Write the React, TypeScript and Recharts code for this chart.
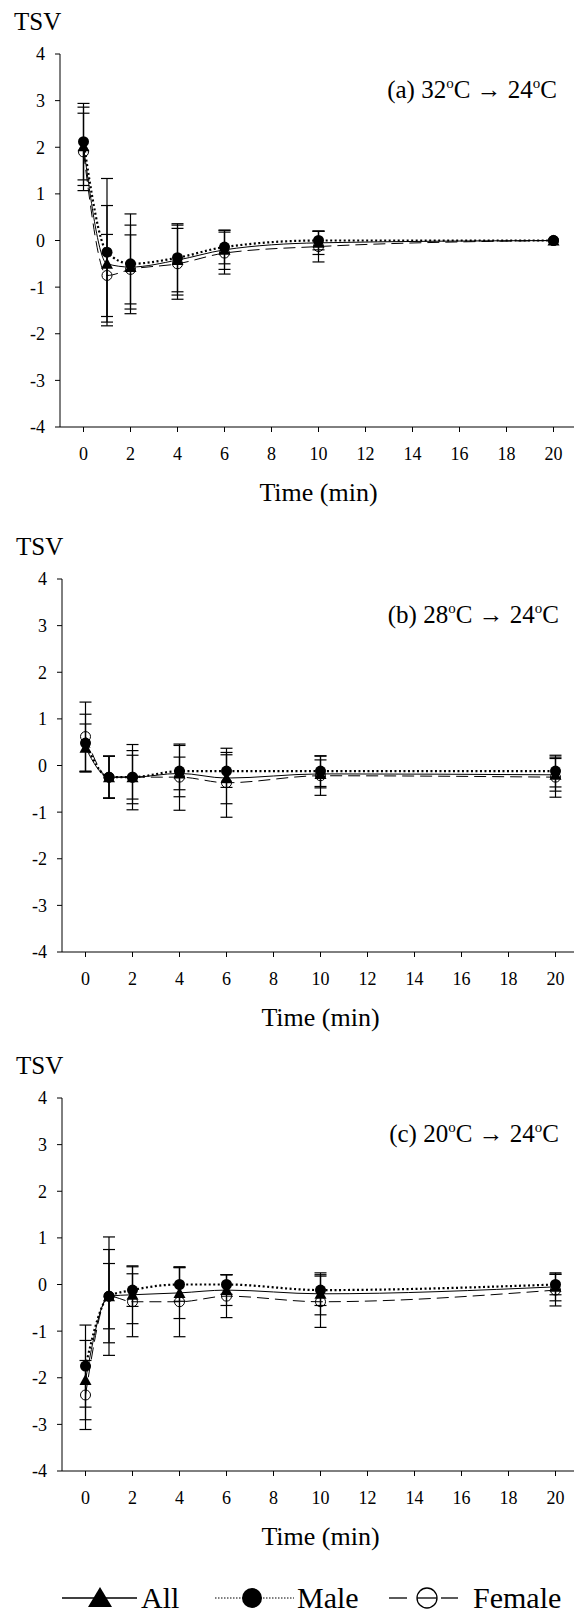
import { ComposedChart, Line, XAxis, YAxis, ErrorBar, Customized } from "recharts";

// sampling times (min)
const times = [0, 1, 2, 4, 6, 10, 20];
const xTicks = [0, 2, 4, 6, 8, 10, 12, 14, 16, 18, 20];
const yTicks = [-4, -3, -2, -1, 0, 1, 2, 3, 4];
const seriesNames = ["All", "Male", "Female"];

// (a) 32 -> 24
const allA = [2.02, -0.5, -0.57, -0.42, -0.2, -0.05, 0];
const allAErr = [0.84, 1.25, 0.9, 0.75, 0.42, 0.25, 0];
const maleA = [2.12, -0.25, -0.5, -0.37, -0.14, 0, 0];
const maleAErr = [0.82, 1.58, 1.07, 0.73, 0.36, 0.2, 0];
const femaleA = [1.9, -0.75, -0.62, -0.5, -0.27, -0.13, 0];
const femaleAErr = [0.83, 0.88, 0.74, 0.76, 0.45, 0.33, 0];

// (b) 28 -> 24
const allB = [0.38, -0.25, -0.25, -0.17, -0.27, -0.18, -0.2];
const allBErr = [0.51, 0.45, 0.47, 0.35, 0.55, 0.3, 0.35];
const maleB = [0.48, -0.25, -0.25, -0.12, -0.12, -0.12, -0.12];
const maleBErr = [0.62, 0.45, 0.7, 0.55, 0.35, 0.33, 0.34];
const femaleB = [0.62, -0.25, -0.25, -0.25, -0.37, -0.22, -0.25];
const femaleBErr = [0.74, 0.45, 0.57, 0.71, 0.74, 0.42, 0.43];

// (c) 20 -> 24
const allC = [-2.05, -0.25, -0.22, -0.18, -0.12, -0.2, -0.05];
const allCErr = [0.85, 0.7, 0.62, 0.55, 0.33, 0.45, 0.3];
const maleC = [-1.75, -0.25, -0.12, 0, 0, -0.12, 0];
const maleCErr = [0.88, 1.0, 0.35, 0.36, 0.21, 0.33, 0.22];
const femaleC = [-2.37, -0.25, -0.37, -0.37, -0.25, -0.37, -0.12];
const femaleCErr = [0.74, 1.27, 0.75, 0.75, 0.46, 0.55, 0.34];

const panelLabels = ["(a)", "(b)", "(c)"];
const fromTemps = ["32", "28", "20"];
const toTemp = "24";

const font = '"Liberation Serif", "Times New Roman", serif';

const makeRows = (all: number[], allErr: number[], male: number[], maleErr: number[], female: number[], femaleErr: number[]) =>
    times.map((t, i) => ({
        t,
        all: all[i],
        allErr: allErr[i],
        male: male[i],
        maleErr: maleErr[i],
        female: female[i],
        femaleErr: femaleErr[i],
    }));

const panels = [
    makeRows(allA, allAErr, maleA, maleAErr, femaleA, femaleAErr),
    makeRows(allB, allBErr, maleB, maleBErr, femaleB, femaleBErr),
    makeRows(allC, allCErr, maleC, maleCErr, femaleC, femaleCErr),
];

const triangleDot = (p: any) => {
    const { cx, cy, index } = p;
    if (cx == null || cy == null) return <g key={`t${index}`} />;
    return <polygon key={`t${index}`} points={`${cx},${cy - 6} ${cx + 6},${cy + 5} ${cx - 6},${cy + 5}`} fill="#000" />;
};
const filledDot = (p: any) => {
    const { cx, cy, index } = p;
    if (cx == null || cy == null) return <g key={`m${index}`} />;
    return <circle key={`m${index}`} cx={cx} cy={cy} r={5.5} fill="#000" />;
};
const openDot = (p: any) => {
    const { cx, cy, index } = p;
    if (cx == null || cy == null) return <g key={`f${index}`} />;
    return <circle key={`f${index}`} cx={cx} cy={cy} r={5} fill="none" stroke="#000" strokeWidth={1} />;
};

function PanelText({ idx }: { idx: number }) {
    return (
        <g style={{ fontFamily: font }}>
            <text x={14} y={30} fontSize={25} fill="#000">TSV</text>
            <text x={557} y={98} fontSize={25} fill="#000" textAnchor="end">
                {panelLabels[idx]} {fromTemps[idx]}
                <tspan dy={-10} fontSize={15}>o</tspan>
                <tspan dy={10}>C → {toTemp}</tspan>
                <tspan dy={-10} fontSize={15}>o</tspan>
                <tspan dy={10}>C</tspan>
            </text>
        </g>
    );
}

function Panel({ idx, top, left }: { idx: number; top: number; left: number }) {
    return (
        <div style={{ position: "absolute", top, left }}>
            <ComposedChart width={577} height={507} data={panels[idx]} margin={{ top: 54, right: 0, bottom: 0, left: 0 }}>
                <XAxis
                    dataKey="t"
                    type="number"
                    domain={[-1, 21]}
                    ticks={xTicks}
                    interval={0}
                    height={80}
                    tickSize={5}
                    tickMargin={15}
                    stroke="#000"
                    tick={{ fill: "#000", fontSize: 18 }}
                    label={{ value: "Time (min)", position: "insideBottom", offset: 6, fill: "#000", fontSize: 26 }}
                />
                <YAxis
                    type="number"
                    domain={[-4, 4]}
                    ticks={yTicks}
                    interval={0}
                    width={60}
                    tickSize={5}
                    tickMargin={10}
                    stroke="#000"
                    tick={{ fill: "#000", fontSize: 18 }}
                />
                <Customized component={<PanelText idx={idx} />} />
                <Line
                    type="monotone"
                    dataKey="female"
                    name={seriesNames[2]}
                    stroke="#000"
                    strokeWidth={1}
                    strokeDasharray="12 6"
                    dot={openDot}
                    activeDot={false}
                    isAnimationActive={false}
                >
                    <ErrorBar dataKey="femaleErr" width={6} stroke="#000" strokeWidth={1.2} direction="y" />
                </Line>
                <Line
                    type="monotone"
                    dataKey="all"
                    name={seriesNames[0]}
                    stroke="#000"
                    strokeWidth={1}
                    dot={triangleDot}
                    activeDot={false}
                    isAnimationActive={false}
                >
                    <ErrorBar dataKey="allErr" width={6} stroke="#000" strokeWidth={1.2} direction="y" />
                </Line>
                <Line
                    type="monotone"
                    dataKey="male"
                    name={seriesNames[1]}
                    stroke="#000"
                    strokeWidth={2.2}
                    strokeDasharray="2 2.5"
                    dot={filledDot}
                    activeDot={false}
                    isAnimationActive={false}
                >
                    <ErrorBar dataKey="maleErr" width={6} stroke="#000" strokeWidth={1.2} direction="y" />
                </Line>
            </ComposedChart>
        </div>
    );
}

function LegendRow() {
    // svg placed at y = 1560, baseline at 1608
    const cy = 38;
    const base = 48;
    return (
        <svg width={574} height={59} style={{ position: "absolute", top: 1560, left: 0, fontFamily: font }}>
            <line x1={62} x2={137} y1={cy} y2={cy} stroke="#000" strokeWidth={1.3} />
            <polygon points={`100,${cy - 11} 112,${cy + 9} 88,${cy + 9}`} fill="#000" />
            <text x={141} y={base} fontSize={30} fill="#000">{seriesNames[0]}</text>

            <line x1={215} x2={294} y1={cy} y2={cy} stroke="#000" strokeWidth={1} strokeDasharray="1.5 1.5" />
            <circle cx={252} cy={cy} r={10} fill="#000" />
            <text x={297} y={base} fontSize={30} fill="#000">{seriesNames[1]}</text>

            <line x1={389} x2={407} y1={cy} y2={cy} stroke="#000" strokeWidth={1.3} />
            <line x1={417} x2={437} y1={cy} y2={cy} stroke="#000" strokeWidth={1.3} />
            <line x1={441} x2={458} y1={cy} y2={cy} stroke="#000" strokeWidth={1.3} />
            <circle cx={427} cy={cy} r={10} fill="none" stroke="#000" strokeWidth={1.3} />
            <text x={473} y={base} fontSize={30} fill="#000">{seriesNames[2]}</text>
        </svg>
    );
}

export default function App() {
    return (
        <div
            style={{
                position: "absolute",
                top: 0,
                left: 0,
                width: 574,
                height: 1619,
                overflow: "hidden",
                background: "#fff",
                fontFamily: font,
            }}
        >
            <Panel idx={0} top={0} left={0} />
            <Panel idx={1} top={525} left={2} />
            <Panel idx={2} top={1044} left={2} />
            <LegendRow />
        </div>
    );
}
